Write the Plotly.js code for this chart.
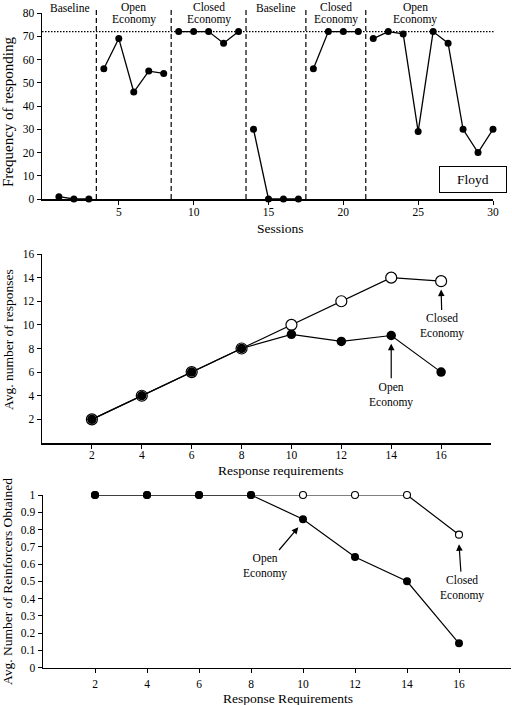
<!DOCTYPE html>
<html>
<head>
<meta charset="utf-8">
<script src="https://cdn.plot.ly/plotly-3.0.1.min.js"></script>
<style>html,body{margin:0;padding:0;background:#fff;}#chart{width:512px;height:705px;}</style>
</head>
<body>
<div id="chart"></div>
<script>
// ---------- DATA ----------
// Panel 1: sessions and frequency of responding, by phase
const phaseNames = [["Baseline"], ["Open", "Economy"], ["Closed", "Economy"], ["Baseline"], ["Closed", "Economy"], ["Open", "Economy"]];
const phaseSessions = [
  [1, 2, 3],
  [4, 5, 6, 7, 8],
  [9, 10, 11, 12, 13],
  [14, 15, 16, 17],
  [18, 19, 20, 21],
  [22, 23, 24, 25, 26, 27, 28, 29, 30]
];
const phaseFreq = [
  [1, 0, 0],
  [56, 69, 46, 55, 54],
  [72, 72, 72, 67, 72],
  [30, 0, 0, 0],
  [56, 72, 72, 72],
  [69, 72, 71, 29, 72, 67, 30, 20, 30]
];
const phaseDividers = [3.5, 8.5, 13.5, 17.5, 21.5];
const criterionLevel = 72;
const sessionTicks = [5, 10, 15, 20, 25, 30];
const freqTicks = [0, 10, 20, 30, 40, 50, 60, 70, 80];
const subjectName = "Floyd";

// Panel 2: average number of responses
const responseReqs = [2, 4, 6, 8, 10, 12, 14, 16];
const respOpen = [2, 4, 6, 8, 9.2, 8.6, 9.1, 6.0];
const respClosed = [2, 4, 6, 8, 10.0, 12.0, 14.0, 13.7];
const respTicks = [2, 4, 6, 8, 10, 12, 14, 16];

// Panel 3: average number of reinforcers obtained
const reinfOpen = [1, 1, 1, 1, 0.86, 0.64, 0.50, 0.14];
const reinfClosed = [1, 1, 1, 1, 1, 1, 1, 0.77];
const reinfTicks = [0, 0.1, 0.2, 0.3, 0.4, 0.5, 0.6, 0.7, 0.8, 0.9, 1];

// ---------- HELPERS ----------
const W = 512, H = 705;
const px = v => v / W;
const py = v => 1 - v / H;
const FONT = "'Liberation Serif', 'Times New Roman', serif";
const INK = "#000";

const traces = [];
phaseSessions.forEach((s, i) => {
  traces.push({
    x: s, y: phaseFreq[i], xaxis: "x", yaxis: "y",
    mode: "lines+markers", type: "scatter", showlegend: false,
    line: {color: INK, width: 1.3},
    marker: {symbol: "circle", size: 7, color: INK},
    cliponaxis: false, hoverinfo: "skip"
  });
});
traces.push({
  x: responseReqs, y: respClosed, xaxis: "x2", yaxis: "y2",
  mode: "lines+markers", type: "scatter", showlegend: false,
  line: {color: INK, width: 1.2},
  marker: {symbol: "circle", size: 11, color: "#fff", line: {color: INK, width: 1.2}},
  cliponaxis: false, hoverinfo: "skip"
});
traces.push({
  x: responseReqs, y: respOpen, xaxis: "x2", yaxis: "y2",
  mode: "lines+markers", type: "scatter", showlegend: false,
  line: {color: INK, width: 1.2},
  marker: {symbol: "circle", size: 9.5, color: INK},
  cliponaxis: false, hoverinfo: "skip"
});
traces.push({
  x: responseReqs, y: reinfClosed, xaxis: "x3", yaxis: "y3",
  mode: "lines+markers", type: "scatter", showlegend: false,
  line: {color: INK, width: 1.2},
  marker: {symbol: "circle", size: 7, color: "#fff", line: {color: INK, width: 1.1}},
  cliponaxis: false, hoverinfo: "skip"
});
traces.push({
  x: responseReqs, y: reinfOpen, xaxis: "x3", yaxis: "y3",
  mode: "lines+markers", type: "scatter", showlegend: false,
  line: {color: INK, width: 1.2},
  marker: {symbol: "circle", size: 8, color: INK},
  cliponaxis: false, hoverinfo: "skip"
});

const axisBase = {
  showgrid: false, zeroline: false, showline: true, linecolor: INK, linewidth: 1.5,
  ticks: "outside", ticklen: 4, tickwidth: 1, tickcolor: INK,
  tickfont: {family: FONT, size: 11.5, color: INK}, fixedrange: true
};

const shapes = [];
phaseDividers.forEach(d => {
  shapes.push({type: "line", xref: "x", yref: "paper", x0: d, x1: d, y0: py(199), y1: py(10),
    line: {color: INK, width: 1.2, dash: "5px,3px"}});
});
shapes.push({type: "line", xref: "paper", yref: "y", x0: px(42), x1: px(495), y0: criterionLevel, y1: criterionLevel,
  line: {color: INK, width: 1.1, dash: "1.5px,1.5px"}});

// phase label x positions (data units along the session axis)
const phaseLabelX = [1.75, 6, 11, 15.5, 19.5, 24.8];
const annFont = {family: FONT, size: 11.5, color: INK};
const annotations = [];
phaseNames.forEach((lines, i) => {
  const ys = lines.length === 1 ? [8.5] : [7.5, 19];
  lines.forEach((t, j) => {
    annotations.push({text: t, xref: "x", yref: "paper", x: phaseLabelX[i],
      y: py(ys[j]), yanchor: "middle", xanchor: "center", borderpad: 0,
      showarrow: false, font: annFont});
  });
});
annotations.push({text: subjectName, xref: "x", yref: "y", x: 28.67, y: 8.2,
  xanchor: "center", yanchor: "middle",
  showarrow: false, font: {family: FONT, size: 13.5, color: INK},
  bordercolor: INK, borderwidth: 1, width: 64, height: 23, align: "center", valign: "middle"});

// axis titles (as annotations for precise placement)
const titleFont = {family: FONT, size: 13.5, color: INK};
const tAnn = (text, x, y, rot, size) => ({text: text, xref: "paper", yref: "paper", x: px(x), y: py(y),
  xanchor: "center", yanchor: "middle", textangle: rot, showarrow: false, borderpad: 0,
  font: size ? {family: FONT, size: size, color: INK} : titleFont});
annotations.push(tAnn("Frequency of responding", 8, 112, -90, 15));
annotations.push(tAnn("Sessions", 280, 228, 0));
annotations.push(tAnn("Avg. number of responses", 8, 340, -90));
annotations.push(tAnn("Response requirements", 281, 470, 0));
annotations.push(tAnn("Avg. Number of Reinforcers Obtained", 7, 582, -90));
annotations.push(tAnn("Response Requirements", 288, 698, 0));

// arrows
const arrowBase = {showarrow: true, arrowhead: 2, arrowsize: 1.1, arrowwidth: 1.2, arrowcolor: INK,
  font: annFont, standoff: 0, startstandoff: 1};
annotations.push(Object.assign({}, arrowBase, {text: "Closed<br>Economy", xref: "x2", yref: "y2",
  x: 16, y: 13.0, ax: 1, ay: 37}));
annotations.push(Object.assign({}, arrowBase, {text: "Open<br>Economy", xref: "x2", yref: "y2",
  x: 14, y: 8.4, ax: 0, ay: 51}));
annotations.push(Object.assign({}, arrowBase, {text: "Open<br>Economy", xref: "x3", yref: "y3",
  x: 9.82, y: 0.813, ax: -33, ay: 39}));
annotations.push(Object.assign({}, arrowBase, {text: "Closed<br>Economy", xref: "x3", yref: "y3",
  x: 16, y: 0.715, ax: 3, ay: 44}));

const layout = {
  width: W, height: H,
  margin: {l: 0, r: 0, t: 0, b: 0, pad: 0},
  paper_bgcolor: "#fff", plot_bgcolor: "rgba(0,0,0,0)",
  showlegend: false,
  font: {family: FONT, color: INK},
  xaxis: Object.assign({}, axisBase, {domain: [px(42), px(493)], range: [-0.13, 30],
    tickvals: sessionTicks, anchor: "y", ticklabelstandoff: -2}),
  yaxis: Object.assign({}, axisBase, {domain: [py(199), py(13)], range: [0, 80],
    tickvals: freqTicks, anchor: "x"}),
  xaxis2: Object.assign({}, axisBase, {domain: [px(42), px(491)], range: [0, 18],
    tickvals: respTicks, anchor: "y2", ticklabelstandoff: -3}),
  yaxis2: Object.assign({}, axisBase, {domain: [py(443), py(254)], range: [0, 16],
    tickvals: respTicks, anchor: "x2"}),
  xaxis3: Object.assign({}, axisBase, {domain: [px(43), px(511)], range: [0, 18],
    tickvals: respTicks, anchor: "y3", ticklabelstandoff: 1}),
  yaxis3: Object.assign({}, axisBase, {domain: [py(667.5), py(495)], range: [0, 1],
    tickvals: reinfTicks, ticktext: reinfTicks.map(v => String(v)), anchor: "x3"}),
  shapes: shapes,
  annotations: annotations
};

Plotly.newPlot("chart", traces, layout, {staticPlot: true, displayModeBar: false});
</script>
</body>
</html>
